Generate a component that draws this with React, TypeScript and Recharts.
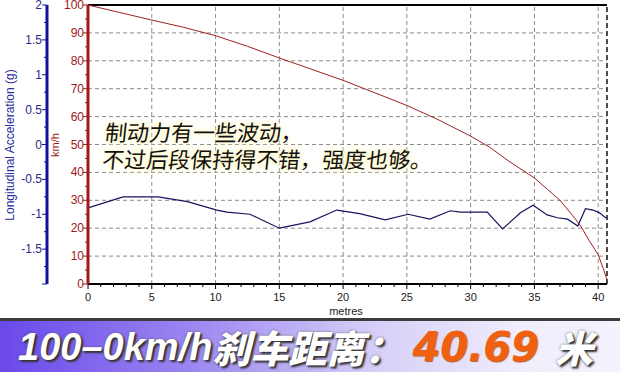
import React from "react";
import { LineChart, Line, XAxis, YAxis, ReferenceLine } from "recharts";

// speed trace (km/h) against distance (m)
const speedDist = [0, 2.5, 5, 7.5, 10, 12.5, 15, 17.5, 20, 22.5, 25, 27.5, 30, 31.5, 33, 35, 36, 37, 38, 38.6, 39.3, 40, 40.4, 40.69];
const speedVal = [100, 97.3, 94.6, 92, 89, 85.2, 81, 77, 73, 68.5, 64, 58.8, 53, 49, 44, 38, 34, 30, 24.5, 21, 15.5, 10.5, 5.5, 1.5];

// longitudinal acceleration (g) against distance (m)
const accDist = [0, 2.75, 5.5, 7.8, 10.1, 10.9, 12.7, 15.0, 17.4, 19.5, 21.3, 23.3, 25.1, 26.8, 28.4, 29.2, 31.3, 32.5, 33.9, 34.9, 36.0, 36.8, 37.6, 38.4, 39.0, 39.6, 40.1, 40.5, 40.69];
const accVal = [-0.91, -0.75, -0.75, -0.82, -0.94, -0.97, -1.0, -1.2, -1.11, -0.94, -0.99, -1.08, -1.0, -1.07, -0.95, -0.97, -0.97, -1.21, -0.98, -0.87, -1.01, -1.05, -1.07, -1.17, -0.92, -0.94, -0.98, -1.04, -1.06];

const distTicks = Array.from({ length: 41 }, (_, i) => i);
const speedTicks = Array.from({ length: 21 }, (_, i) => i * 5);
const accTicks = Array.from({ length: 17 }, (_, i) => -2 + i * 0.25);
const distGrid = [5, 10, 15, 20, 25, 30, 35, 40];
const speedGrid = [10, 20, 30, 40, 50, 60, 70, 80, 90];

const speedData = speedDist.map((d, i) => ({ d, v: speedVal[i] }));
const accData = accDist.map((d, i) => ({ d, g: accVal[i] }));

const RED = "#a01818";
const BLUE = "#10109a";
const tickFont = "'Liberation Sans', Arial, sans-serif";

const XTick = (props: any) => {
  const { x, y, payload } = props;
  const v = payload.value;
  const major = v % 5 === 0;
  return (
    <g>
      <line x1={x} x2={x} y1={y} y2={y + (major ? 5 : 3)} stroke="#000" />
      {major && (
        <text x={x} y={y + 17} textAnchor="middle" fontSize={11} fontFamily={tickFont} fill="#222">
          {v}
        </text>
      )}
    </g>
  );
};

const SpeedTick = (props: any) => {
  const { x, y, payload } = props;
  const v = payload.value;
  const major = v % 10 === 0;
  return (
    <g>
      <line x1={x} x2={x - (major ? 5 : 3)} y1={y} y2={y} stroke={RED} />
      {major && (
        <text x={x - 4} y={y + 4} textAnchor="end" fontSize={12} fontFamily={tickFont} fill={RED}>
          {v}
        </text>
      )}
    </g>
  );
};

const AccTick = (props: any) => {
  const { x, y, payload } = props;
  const v = payload.value;
  const major = Math.abs((v * 2) % 1) < 1e-6;
  return (
    <g>
      <line x1={x} x2={x - (major ? 5 : 3)} y1={y} y2={y} stroke={BLUE} />
      {major && v > -2 && (
        <text x={x - 5} y={y + 4} textAnchor="end" fontSize={12} fontFamily={tickFont} fill="#2a2a88">
          {v}
        </text>
      )}
    </g>
  );
};

export default function App() {
  return (
    <div style={{ position: "absolute", left: 0, top: 0, width: 620, height: 372, background: "#fff", overflow: "hidden" }}>
      <LineChart width={620} height={318} margin={{ top: 5, right: 13, bottom: 0, left: 0 }}>
        <XAxis
          type="number"
          dataKey="d"
          domain={[0, 40.69]}
          ticks={distTicks}
          tick={<XTick />}
          tickSize={0}
          tickMargin={0}
          tickLine={false}
          interval={0}
          axisLine={{ stroke: "#000", strokeWidth: 2 }}
          height={34}
          allowDataOverflow
        />
        <YAxis
          yAxisId="a_kmh"
          type="number"
          domain={[0, 100]}
          ticks={speedTicks}
          tick={<SpeedTick />}
          tickSize={0}
          tickMargin={0}
          tickLine={false}
          axisLine={{ stroke: RED, strokeWidth: 3 }}
          width={41}
          interval={0}
        />
        <YAxis
          yAxisId="b_g"
          type="number"
          domain={[-2, 2]}
          ticks={accTicks}
          tick={<AccTick />}
          tickSize={0}
          tickMargin={0}
          tickLine={false}
          axisLine={{ stroke: BLUE, strokeWidth: 3 }}
          width={47}
          interval={0}
        />
        {distGrid.map((d) => (
          <ReferenceLine key={"x" + d} yAxisId="a_kmh" x={d} stroke="#8a8a8a" strokeDasharray="4 3" />
        ))}
        {speedGrid.map((s) => (
          <ReferenceLine key={"y" + s} yAxisId="a_kmh" y={s} stroke="#8a8a8a" strokeDasharray="4 3" />
        ))}
        <ReferenceLine yAxisId="a_kmh" y={100} stroke="#000" strokeWidth={2} />
        <ReferenceLine yAxisId="a_kmh" x={40.69} stroke="#111" strokeDasharray="5 3" strokeWidth={1.5} />
        <Line
          yAxisId="a_kmh"
          data={speedData}
          dataKey="v"
          type="linear"
          stroke="#a02020"
          strokeWidth={1}
          dot={false}
          isAnimationActive={false}
        />
        <Line
          yAxisId="b_g"
          data={accData}
          dataKey="g"
          type="linear"
          stroke="#141460"
          strokeWidth={1.2}
          dot={false}
          isAnimationActive={false}
        />
      </LineChart>

      <svg width={620} height={318} style={{ position: "absolute", left: 0, top: 0, pointerEvents: "none" }}>
        <text
          x={14}
          y={145}
          transform="rotate(-90 14 145)"
          textAnchor="middle"
          fontSize={12}
          fontFamily={tickFont}
          fill="#2a2a9a"
        >
          Longitudinal Acceleration (g)
        </text>
        <text x={59} y={145} transform="rotate(-90 59 145)" textAnchor="middle" fontSize={11} fontFamily={tickFont} fill={RED}>
          km/h
        </text>
        <text x={346} y={315} textAnchor="middle" fontSize={11} fontFamily={tickFont} fill="#222">
          metres
        </text>
      </svg>

      <div
        style={{
          position: "absolute",
          left: 101,
          top: 118,
          fontFamily: "'Noto Sans CJK SC', sans-serif",
          fontSize: 22,
          lineHeight: "27px",
          color: "#111",
          whiteSpace: "pre",
          transform: "skewX(-6deg)",
          transformOrigin: "left bottom",
          textShadow: "0 0 3px #fffbd2, 0 0 6px #fff6c0, 0 0 9px #fff6c0",
        }}
      >
        {"制动力有一些波动，\n不过后段保持得不错，强度也够。"}
      </div>

      <div
        style={{
          position: "absolute",
          left: 0,
          top: 318,
          width: 620,
          height: 54,
          borderTop: "3px solid #3c3c3c",
          background: "linear-gradient(90deg, #6a48ea 0%, #9a84f0 30%, #d6cef8 60%, #f1eefc 85%, #f4f2fc 100%)",
          display: "flex",
          alignItems: "center",
          paddingLeft: 18,
          boxSizing: "border-box",
          fontStyle: "italic",
          fontWeight: 900,
          lineHeight: "48px",
          whiteSpace: "pre",
          textShadow: "2px 2px 2px #333, 0 0 2px #555",
        }}
      >
        <span style={{ fontFamily: "'Liberation Sans', Arial, sans-serif", fontSize: 38, color: "#fff" }}>100–0km/h</span>
        <span style={{ fontFamily: "'Noto Sans CJK SC', sans-serif", fontSize: 38, color: "#fff" }}>刹车距离：</span>
        <span
          style={{
            fontFamily: "'DejaVu Sans', sans-serif",
            fontSize: 40,
            color: "#f06010",
            marginLeft: 10,
            textShadow: "1px 1px 1px #b06030",
          }}
        >
          40.69
        </span>
        <span style={{ fontFamily: "'Noto Sans CJK SC', sans-serif", fontSize: 38, color: "#fff", marginLeft: 16 }}>米</span>
      </div>
    </div>
  );
}
